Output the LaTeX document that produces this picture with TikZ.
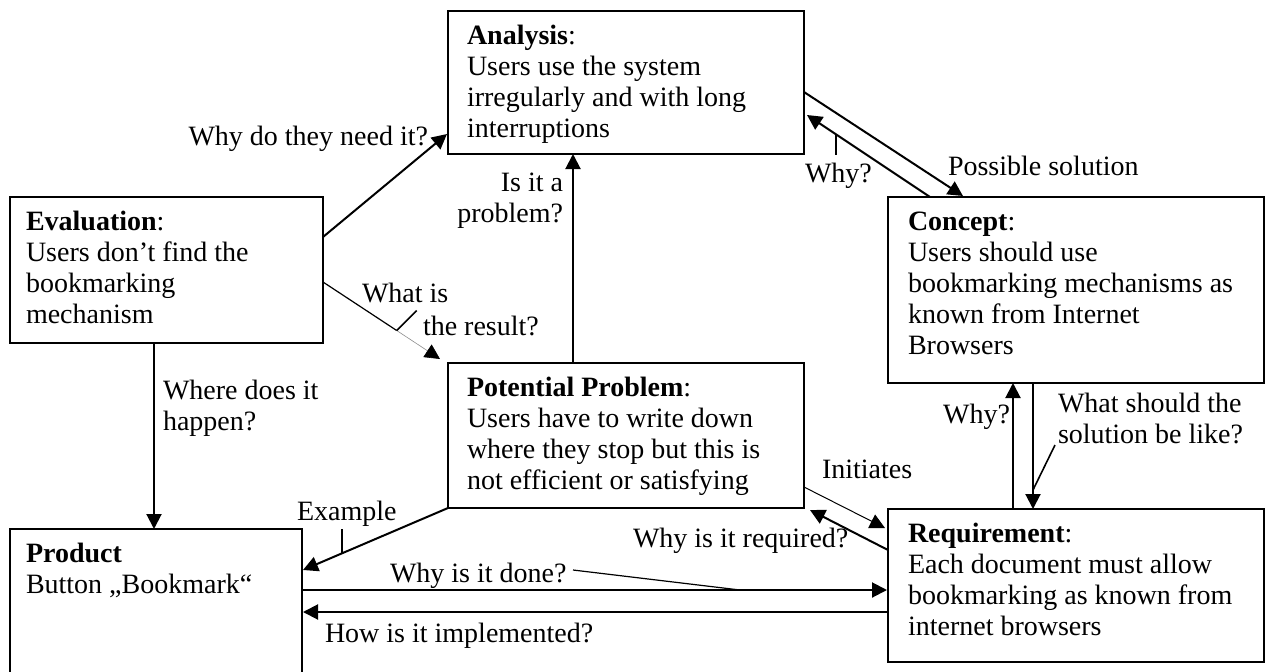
\documentclass[tikz,border=0pt]{standalone}
\usepackage{fontspec}
\setmainfont{Liberation Serif}
\usetikzlibrary{arrows.meta,calc}
\begin{document}
\begin{tikzpicture}[x=0.5pt,y=-0.5pt,
  every node/.style={font=\fontsize{14pt}{15.5pt}\selectfont, inner sep=0pt, outer sep=0pt},
  box/.style={draw, line width=1pt, anchor=north west},
  txt/.style={anchor=north west, align=left},
  arr/.style={line width=1pt, -{Triangle[length=7.5pt,width=7.5pt]}},
  thinarr/.style={line width=0.5pt, -{Triangle[length=7.5pt,width=7.5pt]}},
  tick/.style={line width=0.8pt}
]
\useasboundingbox (0,0) rectangle (1266,671);
\clip (0,0) rectangle (1266,671);

% boxes
\node[box, minimum width=178pt, minimum height=71.5pt] (ana)  at (448,11)  {};
\node[box, minimum width=156.5pt, minimum height=73pt] (eval) at (10,197)  {};
\node[box, minimum width=178pt, minimum height=72.5pt] (pp)   at (448,363) {};
\node[box, minimum width=188pt, minimum height=93pt]   (con)  at (888,197) {};
\node[box, minimum width=188pt, minimum height=76.5pt] (req)  at (888,509) {};
\node[box, minimum width=146pt, minimum height=100pt]  (prod) at (10,529)  {};

% box texts
\node[txt] (anaT)  at ($(ana.north west)+(19,14)$)  {\rule{0pt}{9.8pt}\textbf{Analysis}:\\Users use the system\\irregularly and with long\\interruptions};
\node[txt] (evalT) at ($(eval.north west)+(16,14)$) {\rule{0pt}{9.8pt}\textbf{Evaluation}:\\Users don’t find the\\bookmarking\\mechanism};
\node[txt] (ppT)   at ($(pp.north west)+(19,14)$)   {\rule{0pt}{9.8pt}\textbf{Potential Problem}:\\Users have to write down\\where they stop but this is\\not efficient or satisfying};
\node[txt] (conT)  at ($(con.north west)+(20,14)$)  {\rule{0pt}{9.8pt}\textbf{Concept}:\\Users should use\\bookmarking mechanisms as\\known from Internet\\Browsers};
\node[txt] (reqT)  at ($(req.north west)+(20,14)$)  {\rule{0pt}{9.8pt}\textbf{Requirement}:\\Each document must allow\\bookmarking as known from\\internet browsers};
\node[txt] (prodT) at ($(prod.north west)+(16,14)$) {\rule{0pt}{9.8pt}\textbf{Product}\\Button „Bookmark“};

% connectors
\draw[arr] ($(eval.north east)+(0,40)$) -- ($(ana.north west)+(-1,123)$);
\coordinate (ws) at ($(eval.north east)+(0,85)$);
\coordinate (we) at ($(pp.north west)+(-8,-4)$);
\coordinate (wr) at ($(ws)!0.63!(we)$);
\draw[line width=0.6pt] (ws) -- (wr);
\draw[line width=0.3pt, black!45, -{Triangle[length=7.5pt,width=7.5pt,color=black]}] (wr) -- (we);
\draw[arr] ($(ana.north east)+(0,81)$) -- ($(con.north west)+(75,-1)$);
\draw[arr] ($(con.north west)+(42,0)$) -- ($(ana.north east)+(3,104)$);
\draw[arr] ($(pp.north west)+(125,0)$) -- ($(ana.south west)+(125,0)$);
\draw[arr] ($(eval.south west)+(144,0)$) -- ($(prod.north west)+(144,0)$);
\draw[arr] (pp.south west) -- ($(prod.north east)+(1,41)$);
\draw[arr] ($(prod.north east)+(0,61)$) -- ($(req.north west)+(-1,81)$);
\draw[arr] ($(req.north west)+(0,103)$) -- ($(prod.north east)+(1,83)$);
\draw[thinarr] ($(pp.north east)+(0,124)$) -- ($(req.north west)+(-3,19)$);
\draw[arr] ($(req.north west)+(0,41)$) -- ($(pp.south east)+(6,2)$);
\draw[arr] ($(req.north west)+(125,0)$) -- ($(con.south west)+(125,0)$);
\draw[arr] ($(con.south west)+(145,0)$) -- ($(req.north west)+(145,0)$);

% label ticks
\draw[tick] ($(con.north west)+(42,0)$) ++(-94,-63) -- ++(0,21);
\draw[tick] (wr) -- ++(20,-20);
\draw[tick] ($(pp.south west)!0.73!($(prod.north east)+(1,41)$)$) -- ++(0,-24);
\draw[line width=0.6pt] ($(prod.north east)+(438,61)$) -- ++(-167,-20);
\draw[tick] ($(con.south west)+(145,107)$) -- ++(22,-45);

% labels
\node[anchor=base east] (q1) at (428,145) {Why do they need it?};
\node[anchor=base west] (q2a) at (362,302) {What is};
\node[anchor=base west] (q2b) at (423,335) {the result?};
\node[anchor=base west] (q3) at (948,175) {Possible solution};
\node[anchor=base west] (q4) at (805,182) {Why?};
\node[anchor=north east, align=right] (q5) at (563,172) {\rule{0pt}{9.8pt}Is it a\\problem?};
\node[anchor=north west, align=left] (q6) at (163,380) {\rule{0pt}{9.8pt}Where does it\\happen?};
\node[anchor=base west] (q7) at (297,520) {Example};
\node[anchor=base west] (q8) at (390,582) {Why is it done?};
\node[anchor=base west] (q9) at (325,642) {How is it implemented?};
\node[anchor=base west] (q10) at (822,478) {Initiates};
\node[anchor=base west] (q11) at (633,547) {Why is it required?};
\node[anchor=base east] (q12) at (1010,423) {Why?};
\node[anchor=north west, align=left] (q13) at (1058,393) {\rule{0pt}{9.8pt}What should the\\solution be like?};
\end{tikzpicture}
\end{document}
